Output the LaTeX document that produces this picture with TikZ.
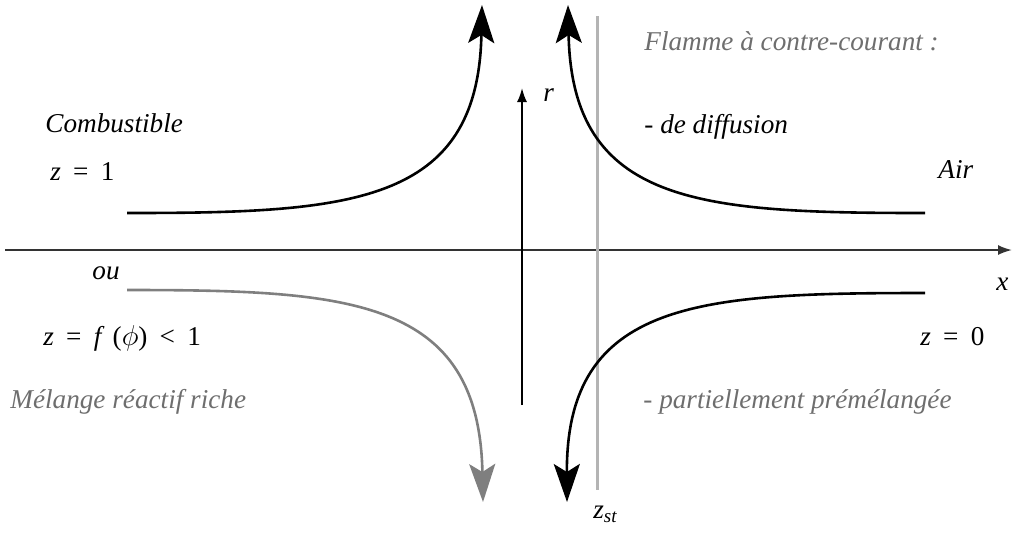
\documentclass[tikz,border=0pt]{standalone}
\usepackage{fontspec}
\setmainfont{Liberation Serif}[ItalicFont={Liberation Serif Italic}, BoldFont={Liberation Serif Bold}]
\usetikzlibrary{arrows.meta}
\definecolor{axisgrey}{HTML}{333333}
\definecolor{textgrey}{HTML}{6E6E6E}
\definecolor{curvegrey}{HTML}{7F7F7F}
\definecolor{linegrey}{HTML}{B4B4B4}
\newcommand{\gap}{\hspace{0.45em}}
\begin{document}
\begin{tikzpicture}[x=0.5pt, y=-0.5pt,
    flow/.style={line width=1.3pt, -{Stealth[length=19pt, width=13pt, inset=4pt]}},
    axis/.style={line width=0.9pt, -{Latex[length=7pt, width=5pt]}},
    lbl/.style={anchor=base west, inner sep=0pt, font=\fontsize{13.6}{16}\selectfont\itshape},
    greylbl/.style={lbl, text=textgrey}]
    \useasboundingbox (0,0) rectangle (1016,532);

    % Axes
    \coordinate (xstart) at (5,250);
    \coordinate (xend) at (1012,250);
    \coordinate (rstart) at (522,405);
    \coordinate (rend) at (522,88);
    \draw[axis, axisgrey] (xstart) -- (xend);
    \draw[axis, black] (rstart) -- (rend);
    \node[lbl] (xlab) at (996,290) {x};
    \node[lbl] (rlab) at (543,101) {r};

    % Stoichiometric line
    \coordinate (sttop) at (597,16);
    \coordinate (stbot) at (597,490);
    \draw[line width=1.5pt, linegrey] (sttop) -- (stbot);
    \node[lbl] (zst) at (593,518) {z\textsubscript{st}};

    % Streamlines
    \coordinate (ulin) at (127,213);
    \coordinate (ulout) at (482,5);
    \coordinate (urin) at (925,213);
    \coordinate (urout) at (568,5);
    \coordinate (llin) at (127,290);
    \coordinate (llout) at (483,502);
    \coordinate (lrin) at (925,293);
    \coordinate (lrout) at (567,502);
    \draw[flow] (ulin) .. controls (350,213) and (478,205) .. (ulout);
    \draw[flow] (urin) .. controls (700,213) and (572,205) .. (urout);
    \draw[flow, curvegrey] (llin) .. controls (350,290) and (479,298) .. (llout);
    \draw[flow] (lrin) .. controls (700,293) and (566,300) .. (lrout);

    % Fuel side
    \node[lbl] (fuel) at (45,132) {Combustible};
    \node[lbl] (zone) at (50,180) {z\gap\upshape=\gap1};
    \node[lbl] (ou) at (92,279) {ou};
    \node[lbl] (zphi) at (43,345) {z\gap\upshape=\gap\itshape f\, \upshape(\itshape$\phi$\upshape)\gap<\gap1};
    \node[greylbl] (premix) at (10,408) {Mélange réactif riche};

    % Oxidiser side
    \node[greylbl] (flame) at (644,50) {Flamme à contre-courant :};
    \node[lbl] (diff) at (644,133) {- de diffusion};
    \node[lbl] (air) at (938,178) {Air};
    \node[lbl] (zzero) at (920,345) {z\gap\upshape=\gap0};
    \node[greylbl] (partial) at (643,408) {- partiellement prémélangée};
\end{tikzpicture}
\end{document}
